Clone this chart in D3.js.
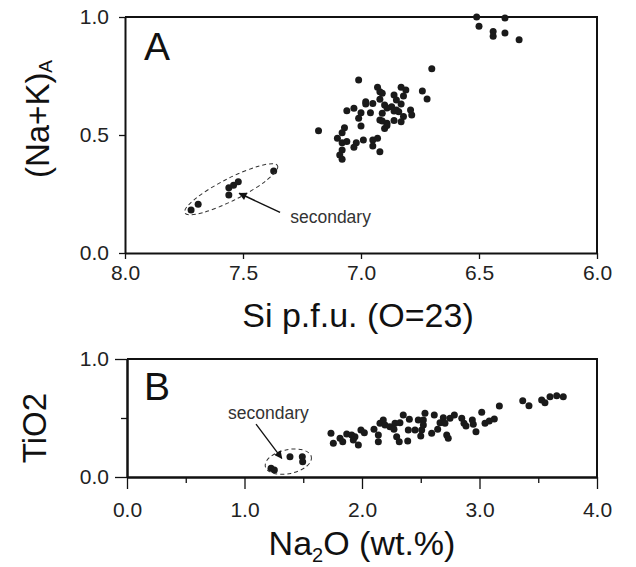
<!DOCTYPE html>
<meta charset="utf-8">
<head>
  <style>
    body { margin: 0; background: #fff; }
    svg { display: block; font-family: "Liberation Sans", Arial, sans-serif; }
    .tick text { font-size: 21px; fill: #222; font-family: "Liberation Sans", Arial, sans-serif; }
    .tick line, .domain { stroke: #111; }
    .domain { stroke-width: 2; }
    .tick line { stroke-width: 1.3; }
  </style>
</head>
<body>
<script src="https://cdn.jsdelivr.net/npm/d3@7"></script>
<div id="chart"></div>
<script>

// panel A: Si p.f.u. vs (Na+K)A
var siMain = [7.01,6.93,6.92,6.83,6.81,6.74,6.72,6.86,6.82,6.92,6.95,6.98,6.90,6.85,6.85,6.84,6.87,7.06,7.03,7.00,
  6.96,6.91,7.01,6.92,6.79,6.785,6.82,6.86,6.83,6.89,6.90,7.00,7.18,7.07,7.08,7.10,7.08,7.06,7.02,6.99,
  7.03,6.95,6.93,6.95,6.92,7.08,7.09,7.08,6.91,6.70,6.89,6.91,6.89,6.98,6.86,6.83];
var nakMain = [0.733,0.702,0.683,0.702,0.691,0.686,0.653,0.669,0.665,0.651,0.634,0.641,0.627,0.648,0.606,0.599,0.620,0.603,0.613,0.594,
  0.594,0.592,0.571,0.564,0.606,0.585,0.578,0.561,0.556,0.550,0.528,0.538,0.518,0.531,0.510,0.486,0.467,0.472,0.467,0.479,
  0.448,0.479,0.486,0.453,0.429,0.436,0.415,0.397,0.677,0.781,0.614,0.559,0.540,0.631,0.602,0.631];
var siHigh = [6.51,6.39,6.50,6.44,6.44,6.39,6.33];
var nakHigh = [1.0,0.996,0.961,0.939,0.918,0.932,0.904];
var siSec = [7.72,7.69,7.56,7.56,7.54,7.52,7.37];
var nakSec = [0.182,0.207,0.246,0.276,0.287,0.302,0.347];

// panel B: Na2O vs TiO2
var naMain = [1.736,1.756,1.813,1.836,1.870,1.912,1.926,1.969,1.940,1.991,2.020,2.102,2.139,2.139,2.153,2.181,2.196,2.238,2.281,2.323,
  2.272,2.295,2.317,2.389,2.351,2.403,2.394,2.451,2.479,2.508,2.500,2.522,2.536,2.522,2.593,2.615,2.644,2.664,2.692,2.706,
  2.721,2.734,2.749,2.786,2.849,2.868,2.885,2.939,2.947,2.970,3.019,3.047,3.083,3.126,3.169,3.368,3.421,3.529,3.557,3.600,
  3.657,3.713];
var tiMain = [0.370,0.286,0.328,0.299,0.364,0.356,0.314,0.271,0.342,0.398,0.375,0.404,0.356,0.299,0.455,0.483,0.441,0.426,0.455,0.460,
  0.404,0.342,0.299,0.305,0.525,0.489,0.398,0.398,0.483,0.398,0.347,0.483,0.540,0.441,0.370,0.525,0.404,0.460,0.503,0.455,
  0.356,0.328,0.497,0.525,0.497,0.455,0.432,0.483,0.447,0.384,0.548,0.455,0.475,0.492,0.602,0.647,0.604,0.653,0.630,0.681,
  0.689,0.681];
var naSec = [1.226,1.254,1.387,1.492,1.495];
var tiSec = [0.074,0.059,0.172,0.172,0.130];

var ticksA_x = [8.0, 7.5, 7.0, 6.5, 6.0];
var ticksA_y = [0.0, 0.5, 1.0];
var ticksB_x = [0, 1, 2, 3, 4];
var minorB_x = [0.5, 1.5, 2.5, 3.5];
var ticksB_y = [0, 1];
var minorB_y = [0.5];

var fmt = d3.format(".1f");

var svg = d3.select("#chart").append("svg")
  .attr("width", 636)
  .attr("height", 567);

// ---------- panel A ----------
var xA = d3.scaleLinear().domain([8, 6]).range([125, 597]);
var yA = d3.scaleLinear().domain([0, 1]).range([253, 17]);

svg.append("g")
  .attr("transform", "translate(0,253)")
  .call(d3.axisBottom(xA).tickValues(ticksA_x).tickFormat(fmt).tickSizeInner(6).tickSizeOuter(0).tickPadding(6));
svg.append("g")
  .attr("transform", "translate(125,0)")
  .call(d3.axisLeft(yA).tickValues(ticksA_y).tickFormat(fmt).tickSizeInner(6).tickSizeOuter(0).tickPadding(10));
svg.append("path")
  .attr("d", "M" + xA(8) + "," + yA(1) + "H" + xA(6) + "V" + yA(0))
  .attr("fill", "none").attr("stroke", "#111").attr("stroke-width", 2);

var ptsA = siMain.map(function(d, i) { return [d, nakMain[i]]; })
  .concat(siHigh.map(function(d, i) { return [d, nakHigh[i]]; }))
  .concat(siSec.map(function(d, i) { return [d, nakSec[i]]; }));

svg.selectAll(".dotA")
  .data(ptsA)
  .enter().append("circle")
    .attr("cx", function(d) { return xA(d[0]); })
    .attr("cy", function(d) { return yA(d[1]); })
    .attr("r", 3.5)
    .attr("fill", "#1a1a1a");

// ---------- panel B ----------
var xB = d3.scaleLinear().domain([0, 4]).range([127, 597]);
var yB = d3.scaleLinear().domain([0, 1]).range([477, 359]);

svg.append("g")
  .attr("transform", "translate(0,477)")
  .call(d3.axisBottom(xB).tickValues(minorB_x).tickFormat("").tickSizeInner(6).tickSizeOuter(0));
svg.append("g")
  .attr("transform", "translate(0,477)")
  .call(d3.axisBottom(xB).tickValues(ticksB_x).tickFormat(fmt).tickSizeInner(12).tickSizeOuter(0).tickPadding(13));
svg.append("g")
  .attr("transform", "translate(127,0)")
  .call(d3.axisLeft(yB).tickValues(minorB_y).tickFormat("").tickSizeInner(6).tickSizeOuter(0));
svg.append("g")
  .attr("transform", "translate(127,0)")
  .call(d3.axisLeft(yB).tickValues(ticksB_y).tickFormat(fmt).tickSizeInner(12).tickSizeOuter(0).tickPadding(6));
svg.append("path")
  .attr("d", "M" + xB(0) + "," + yB(1) + "H" + xB(4) + "V" + yB(0))
  .attr("fill", "none").attr("stroke", "#111").attr("stroke-width", 2);

var ptsB = naMain.map(function(d, i) { return [d, tiMain[i]]; })
  .concat(naSec.map(function(d, i) { return [d, tiSec[i]]; }));

svg.selectAll(".dotB")
  .data(ptsB)
  .enter().append("circle")
    .attr("cx", function(d) { return xB(d[0]); })
    .attr("cy", function(d) { return yB(d[1]); })
    .attr("r", 3.5)
    .attr("fill", "#1a1a1a");

// ---------- annotations ----------
svg.append("defs").append("marker")
  .attr("id", "head")
  .attr("viewBox", "0 0 10 10")
  .attr("refX", 9).attr("refY", 5)
  .attr("markerWidth", 11).attr("markerHeight", 8)
  .attr("markerUnits", "userSpaceOnUse")
  .attr("orient", "auto")
  .append("path").attr("d", "M0,0L10,5L0,10z").attr("fill", "#111");

// secondary ellipse + arrow, panel A
svg.append("ellipse")
  .attr("transform", "translate(" + xA(7.55) + "," + yA(0.27) + ") rotate(-27)")
  .attr("rx", 52).attr("ry", 11)
  .attr("fill", "none").attr("stroke", "#333").attr("stroke-width", 1)
  .attr("stroke-dasharray", "4,3");
svg.append("line")
  .attr("x1", xA(7.343)).attr("y1", yA(0.172))
  .attr("x2", xA(7.516)).attr("y2", yA(0.253))
  .attr("stroke", "#111").attr("stroke-width", 1.5)
  .attr("marker-end", "url(#head)");
svg.append("text")
  .attr("x", xA(7.30)).attr("y", yA(0.127))
  .style("font-size", "17.5px").style("fill", "#333")
  .text("secondary");

// panel B
svg.append("ellipse")
  .attr("transform", "translate(" + xB(1.373) + "," + yB(0.130) + ") rotate(-12)")
  .attr("rx", 23.5).attr("ry", 12)
  .attr("fill", "none").attr("stroke", "#333").attr("stroke-width", 1)
  .attr("stroke-dasharray", "4,3");
svg.append("line")
  .attr("x1", xB(1.098)).attr("y1", yB(0.449))
  .attr("x2", xB(1.317)).attr("y2", yB(0.158))
  .attr("stroke", "#111").attr("stroke-width", 1.3)
  .attr("marker-end", "url(#head)");
svg.append("text")
  .attr("x", xB(0.86)).attr("y", yB(0.49))
  .style("font-size", "17.5px").style("fill", "#333")
  .text("secondary");

// panel letters
svg.append("text").attr("x", 144).attr("y", 60).style("font-size", "39px").style("fill", "#111").text("A");
svg.append("text").attr("x", 144).attr("y", 400).style("font-size", "39px").style("fill", "#111").text("B");

// axis titles
svg.append("text")
  .attr("x", 358).attr("y", 327)
  .attr("text-anchor", "middle")
  .style("font-size", "34px").style("fill", "#111")
  .text("Si p.f.u. (O=23)");

var yt = svg.append("text")
  .attr("transform", "translate(49,119) rotate(-90)")
  .attr("text-anchor", "middle")
  .style("font-size", "33px").style("fill", "#111");
yt.append("tspan").text("(Na+K)");
yt.append("tspan").attr("dy", 3).style("font-size", "19px").text("A");

var xt = svg.append("text")
  .attr("x", 362).attr("y", 555)
  .attr("text-anchor", "middle")
  .style("font-size", "34px").style("fill", "#111");
xt.append("tspan").text("Na");
xt.append("tspan").attr("dy", 7).style("font-size", "20px").text("2");
xt.append("tspan").attr("dy", -7).text("O (wt.%)");

svg.append("text")
  .attr("transform", "translate(46,428) rotate(-90)")
  .attr("text-anchor", "middle")
  .style("font-size", "33px").style("fill", "#111")
  .text("TiO2");

</script>
</body>
